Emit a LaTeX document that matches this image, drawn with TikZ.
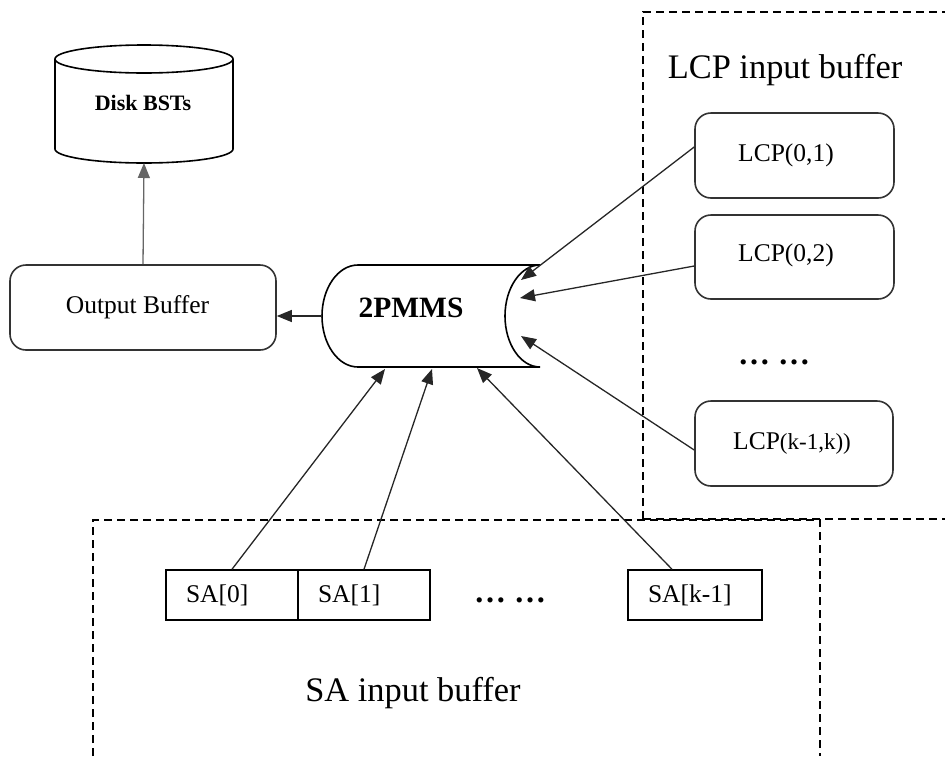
\documentclass[tikz,border=0pt]{standalone}
\usepackage{fontspec}
\setmainfont{Liberation Serif}
\usetikzlibrary{arrows.meta}
\begin{document}
\begin{tikzpicture}[x=1pt,y=-1pt,
  outline/.style={draw=black!80,line width=1.6pt},
  roundbox/.style={outline,rounded corners=16pt,inner sep=0pt},
  sabox/.style={draw=black,line width=1.5pt,minimum width=132pt,minimum height=50pt,
    inner xsep=20pt,inner ysep=0pt,text width=92pt,align=left,
    font=\fontsize{25.5}{30}\selectfont},
  region/.style={draw=black,line width=1.8pt,dash pattern=on 8pt off 5pt},
  feed/.style={draw=black!85,line width=1.3pt,-{Triangle[length=15pt,width=12pt]}},
  txt/.style={inner sep=0pt,font=\fontsize{25.5}{30}\selectfont},
  bigtxt/.style={inner sep=0pt,font=\fontsize{34.4}{40}\selectfont},
  dotstxt/.style={inner sep=0pt,font=\bfseries\fontsize{32}{40}\selectfont}]
\useasboundingbox (0,0) rectangle (945,756);

% dashed buffer regions
\draw[region] (643,519) -- (643,12) -- (945,12);
\draw[region] (643,519) -- (945,519);
\draw[region] (93,756) -- (93,520) -- (820,520) -- (820,756);

% disk cylinder
\draw[draw=black,line width=1.6pt] (55,59) -- (55,149)
  arc[start angle=180,end angle=0,x radius=89,y radius=14] -- (233,59);
\draw[draw=black,line width=1.6pt] (144,59) ellipse [x radius=89,y radius=14];
\node[inner sep=0pt,font=\bfseries\fontsize{22}{26}\selectfont] (disk) at (143,103) {Disk BSTs};
\coordinate (diskbottom) at (144,163);

% output buffer
\node[roundbox,minimum width=266pt,minimum height=85pt] (outbuf) at (143,307.5) {};
\node[txt] (outbuftxt) at ([xshift=-5.5pt]outbuf.center) {Output Buffer};

% 2PMMS stored-data shape
\draw[draw=black,line width=1.6pt] (540,265) -- (358,265)
  arc[start angle=270,end angle=90,x radius=36,y radius=51] -- (540,367)
  arc[start angle=90,end angle=270,x radius=35,y radius=51];
\node[inner sep=0pt,font=\bfseries\fontsize{29.5}{34}\selectfont] (pmms) at (411,308) {2PMMS};
\coordinate (pmmsleft) at (322,316);
\coordinate (inA) at (521,280);
\coordinate (inB) at (520,298);
\coordinate (inC) at (521,336);
\coordinate (inD) at (385,369);
\coordinate (inE) at (432,369);
\coordinate (inF) at (477,368);

% LCP input buffer
\node[bigtxt] (lcptitle) at (785,70) {LCP input buffer};
\node[roundbox,minimum width=199pt,minimum height=85pt] (lcp1) at (794.5,155.5) {};
\node[txt] (lcp1txt) at (786,155) {LCP(0,1)};
\node[roundbox,minimum width=199pt,minimum height=84pt] (lcp2) at (794.5,257) {};
\node[txt] (lcp2txt) at (786,255) {LCP(0,2)};
\node[dotstxt] (lcpdots) at (774,362) {…\ …};
\node[roundbox,minimum width=198pt,minimum height=85pt] (lcp3) at (794,443.5) {};
\node[inner sep=0pt] (lcp3txt) at (792,443)
  {\fontsize{25.5}{30}\selectfont LCP\fontsize{23}{30}\selectfont(k-1,k))};

% SA input buffer
\node[sabox] (sa0) at (232,595) {SA[0]};
\node[sabox] (sa1) at (364,595) {SA[1]};
\node[dotstxt] (sadots) at (510,600) {…\ …};
\node[sabox,minimum width=134pt,text width=94pt] (sak) at (695,595) {SA[k-1]};
\node[bigtxt] (satitle) at (413,693) {SA input buffer};

% connectors
\draw[feed,draw=black!60] (outbuf.north) -- (diskbottom);
\draw[feed] (pmmsleft) -- (pmmsleft -| outbuf.east);
\draw[feed] ([yshift=8.5pt]lcp1.west) -- (inA);
\draw[feed] ([yshift=-9pt]lcp2.west) -- (inB);
\draw[feed] ([yshift=-6.5pt]lcp3.west) -- (inC);
\draw[feed] (sa0.north) -- (inD);
\draw[feed] (sa1.north) -- (inE);
\draw[feed] ([xshift=-23pt]sak.north) -- (inF);
\end{tikzpicture}
\end{document}
